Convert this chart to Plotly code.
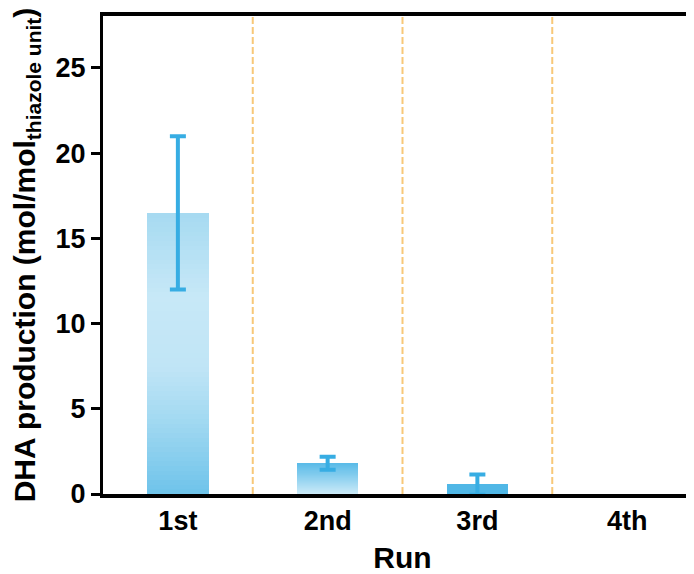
import plotly.graph_objects as go

runs = ["1st", "2nd", "3rd", "4th"]
values = [16.5, 1.8, 0.55, 0.0]
errors = [4.5, 0.38, 0.6, 0.0]
y_ticks = [0, 5, 10, 15, 20, 25]

# gradient colour stops per bar (fraction of bar height, colour) - styling only
grad_stops = [
    [(0.0, (110, 195, 234)), (0.25, (160, 216, 241)), (0.45, (192, 229, 246)),
     (0.7, (199, 232, 247)), (1.0, (166, 218, 241))],
    [(0.0, (205, 235, 248)), (1.0, (90, 187, 232))],
    [(0.0, (80, 183, 230)), (1.0, (80, 183, 230))],
    [(0.0, (80, 183, 230)), (1.0, (80, 183, 230))],
]


def interp(stops, f):
    for (f0, c0), (f1, c1) in zip(stops[:-1], stops[1:]):
        if f0 <= f <= f1:
            t = 0 if f1 == f0 else (f - f0) / (f1 - f0)
            c = [round(a + (b - a) * t) for a, b in zip(c0, c1)]
            return f"rgb({c[0]},{c[1]},{c[2]})"
    c = stops[-1][1]
    return f"rgb({c[0]},{c[1]},{c[2]})"


N = 60
fig = go.Figure()
for i in range(N):
    frac = (i + 0.5) / N
    fig.add_trace(go.Bar(
        x=runs,
        y=[v / N for v in values],
        base=[v * i / N for v in values],
        width=0.41,
        marker=dict(color=[interp(grad_stops[k], frac) for k in range(len(runs))],
                    line=dict(width=0)),
        showlegend=False,
        hoverinfo="skip",
    ))

err_x = [r for r, e in zip(runs, errors) if e > 0]
err_y = [v for v, e in zip(values, errors) if e > 0]
err_e = [e for e in errors if e > 0]
fig.add_trace(go.Scatter(
    x=err_x, y=err_y, mode="markers",
    marker=dict(size=1, color="rgba(0,0,0,0)"),
    error_y=dict(type="data", array=err_e, color="#37ADE3", thickness=4, width=8),
    showlegend=False,
))

for xpos in [0.5, 1.5, 2.5]:
    fig.add_shape(type="line", xref="x", yref="paper", x0=xpos, x1=xpos, y0=0, y1=1,
                  line=dict(color="#F8C878", width=2, dash="7px,3px"), layer="below")

font_family = "Liberation Sans, Arial, sans-serif"
fig.update_layout(
    width=694, height=574,
    margin=dict(l=95, r=0, t=8, b=88),
    paper_bgcolor="white", plot_bgcolor="white",
    barmode="overlay",
    bargap=0,
    font=dict(family=font_family, color="black", size=27, weight="bold"),
    xaxis=dict(
        categoryorder="array", categoryarray=runs,
        range=[-0.5, 3.5],
        automargin=False,
        showline=True, linecolor="black", linewidth=3.5, mirror=True,
        ticks="", showgrid=False, zeroline=False,
        tickfont=dict(size=27, family=font_family, color="black", weight="bold"),
        title=dict(text="Run", font=dict(size=30, family=font_family, weight="bold"),
                   standoff=13),
    ),
    yaxis=dict(
        range=[0, 28.05],
        tickvals=y_ticks,
        automargin=False,
        showline=True, linecolor="black", linewidth=3,
        ticks="outside", ticklen=9, tickwidth=3, tickcolor="black",
        showgrid=False, zeroline=False,
        tickfont=dict(size=27, family=font_family, color="black", weight="bold"),
        title=dict(text="DHA production (mol/mol<sub>thiazole unit</sub>)",
                   font=dict(size=30, family=font_family, weight="bold"),
                   standoff=12),
    ),
)

fig.write_html("out.html")
